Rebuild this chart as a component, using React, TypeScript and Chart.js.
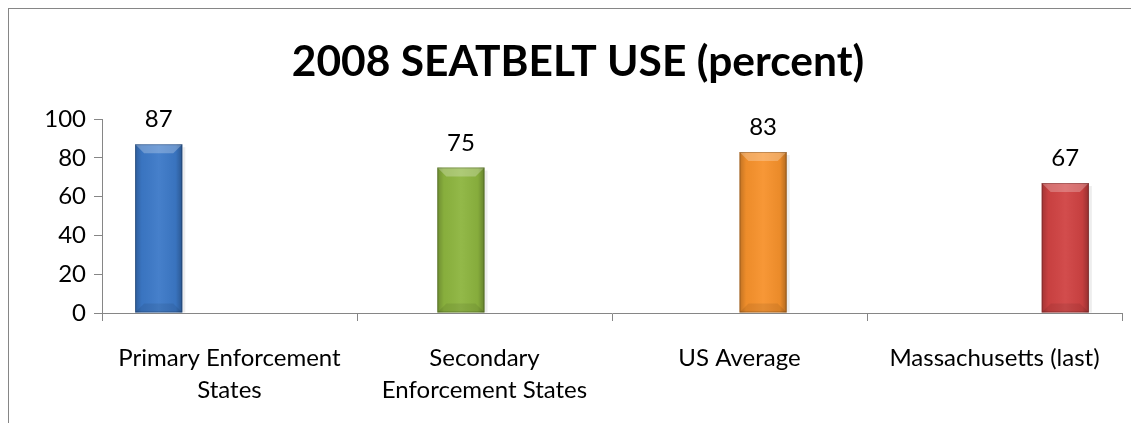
import React, { useEffect, useRef } from "react";
import { Chart, registerables } from "chart.js";

Chart.register(...registerables);

const categories: (string | string[])[] = [
  ["Primary Enforcement", "States"],
  ["Secondary", "Enforcement States"],
  "US Average",
  "Massachusetts (last)",
];
const values: number[] = [87, 75, 83, 67];
const barColors: string[] = ["#3c79c8", "#8db53f", "#f7922c", "#d04343"];
const titleText = "2008 SEATBELT USE (percent)";
const yMin = 0;
const yMax = 100;
const yStep = 20;

const FONT = "Lato, 'Open Sans', sans-serif";
const AXIS_GRAY = "#868686";

const bevelPlugin = {
  id: "bevelAndLabels",
  afterDatasetsDraw(chart: any) {
    const ctx = chart.ctx as CanvasRenderingContext2D;
    chart.data.datasets.forEach((ds: any, di: number) => {
      const meta = chart.getDatasetMeta(di);
      meta.data.forEach((el: any, i: number) => {
        const v = ds.data[i];
        if (v === null || v === undefined) return;
        const { x, y, base, width } = el.getProps(["x", "y", "base", "width"], true);
        const l = x - width / 2;
        const r = x + width / 2;
        const t = y;
        const b = base;
        const bv = Math.min(9, width / 4);
        ctx.save();
        // side shading
        const g = ctx.createLinearGradient(l, 0, r, 0);
        g.addColorStop(0, "rgba(0,0,0,0.22)");
        g.addColorStop(0.14, "rgba(0,0,0,0.04)");
        g.addColorStop(0.5, "rgba(255,255,255,0.05)");
        g.addColorStop(0.86, "rgba(0,0,0,0.05)");
        g.addColorStop(1, "rgba(0,0,0,0.28)");
        ctx.fillStyle = g;
        ctx.fillRect(l, t, width, b - t);
        // top bevel
        ctx.beginPath();
        ctx.moveTo(l, t);
        ctx.lineTo(r, t);
        ctx.lineTo(r - bv, t + bv);
        ctx.lineTo(l + bv, t + bv);
        ctx.closePath();
        ctx.fillStyle = "rgba(255,255,255,0.25)";
        ctx.fill();
        // bottom bevel
        ctx.beginPath();
        ctx.moveTo(l, b);
        ctx.lineTo(r, b);
        ctx.lineTo(r - bv, b - bv);
        ctx.lineTo(l + bv, b - bv);
        ctx.closePath();
        ctx.fillStyle = "rgba(0,0,0,0.08)";
        ctx.fill();
        // right shadow
        ctx.fillStyle = "rgba(0,0,0,0.07)";
        ctx.fillRect(r, t + 3, 3, b - t - 3);
        // outline
        ctx.strokeStyle = "rgba(0,0,0,0.22)";
        ctx.lineWidth = 1;
        ctx.strokeRect(l + 0.5, t + 0.5, width - 1, b - t - 1);
        // value label
        ctx.fillStyle = "#000";
        ctx.font = `24px ${FONT}`;
        ctx.textAlign = "center";
        ctx.textBaseline = "alphabetic";
        ctx.fillText(String(v), x, t - 17);
        ctx.restore();
      });
    });
  },
};

export default function App() {
  const canvasRef = useRef<HTMLCanvasElement | null>(null);

  useEffect(() => {
    document.body.style.overflow = "hidden";
    const canvas = canvasRef.current;
    if (!canvas) return;
    const datasets = values.map((v, i) => ({
      label: Array.isArray(categories[i]) ? (categories[i] as string[]).join(" ") : (categories[i] as string),
      data: categories.map((_, j) => (j === i ? v : null)),
      backgroundColor: barColors[i],
      borderWidth: 0,
      categoryPercentage: 0.74,
      barPercentage: 1,
      skipNull: false,
    }));
    const chart = new Chart(canvas, {
      type: "bar",
      data: { labels: categories as any, datasets },
      plugins: [bevelPlugin],
      options: {
        responsive: false,
        animation: false,
        layout: { padding: { top: 0, right: 17, bottom: 0, left: 25 } },
        plugins: {
          legend: { display: false },
          tooltip: { enabled: false },
          title: {
            display: true,
            text: titleText,
            color: "#000",
            font: { family: FONT, size: 42.5, weight: "bold", lineHeight: 1.2 },
            padding: { top: 28, bottom: 31 },
          },
        },
        scales: {
          x: {
            grid: {
              display: true,
              offset: true,
              drawOnChartArea: false,
              drawTicks: true,
              tickLength: 8,
              color: AXIS_GRAY,
            },
            border: { display: true, color: AXIS_GRAY, width: 1 },
            ticks: {
              color: "#000",
              font: { family: FONT, size: 24, lineHeight: 1.3333 },
              padding: 21,
              maxRotation: 0,
              autoSkip: false,
            },
            afterFit(scale: any) {
              scale.height = 110;
            },
          },
          y: {
            min: yMin,
            max: yMax,
            grid: {
              display: true,
              drawOnChartArea: false,
              drawTicks: true,
              tickLength: 8,
              color: AXIS_GRAY,
            },
            border: { display: true, color: AXIS_GRAY, width: 1 },
            ticks: {
              stepSize: yStep,
              color: "#000",
              font: { family: FONT, size: 24 },
              padding: 8,
            },
            afterFit(scale: any) {
              scale.width = 68;
            },
          },
        },
      },
    });
    return () => chart.destroy();
  }, []);

  return (
    <div
      style={{
        position: "relative",
        width: "calc(100vw - 8px)",
        height: 415,
        borderTop: `1px solid ${AXIS_GRAY}`,
        borderLeft: `1px solid ${AXIS_GRAY}`,
        boxSizing: "border-box",
        overflow: "hidden",
        background: "#fff",
      }}
    >
      <canvas
        ref={canvasRef}
        width={1130}
        height={414}
        style={{ position: "absolute", left: 0, top: 0, width: 1130, height: 414 }}
      />
    </div>
  );
}
